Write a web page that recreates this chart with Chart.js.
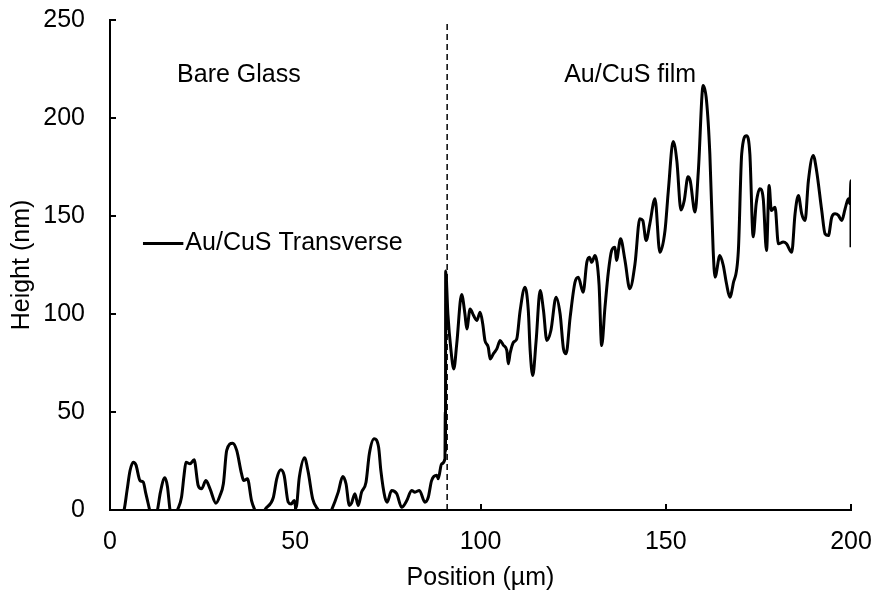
<!DOCTYPE html>
<html>
<head>
<meta charset="utf-8">
<script src="https://cdn.jsdelivr.net/npm/chart.js@4.4.1/dist/chart.umd.min.js"></script>
<style>
  html, body { margin: 0; padding: 0; background: #fff; }
</style>
</head>
<body>
<canvas id="chart" width="879" height="594"></canvas>
<script>
// transverse profile: position (µm) and height (nm)
const positions = [
  0, 2, 3.8, 4.6, 5.4, 6.3, 7.0, 8.1, 9.0, 9.6, 10.3, 10.7, 11.5, 12.8, 13.6, 14.8, 15.5, 16.2, 17, 18.2,
  19.3, 20.0, 20.5, 21.6, 22.7, 23.8, 24.7, 25.9, 27.0, 28.6, 29.7, 30.6, 31.5, 33.1, 34.2, 35.5, 36.1, 37.1, 38.2, 39.1,
  40.5, 41.8, 44.1, 45.0, 46.1, 47.0, 48.1, 48.9, 49.7, 50.2, 51.1, 52.5, 53.5, 54.7, 56.2, 58, 59.8, 61.6, 62.8, 63.7,
  64.6, 65.2, 66.1, 67.0, 67.9, 69.1, 70.0, 71.3, 72.5, 73.1, 74.2, 74.8, 76.0, 77.4, 78.7, 80.1, 81.4, 82.3, 83.5, 85.0,
  85.9, 86.8, 88.2, 88.6, 89.5, 90.4, 90.5, 90.55, 90.6, 91.2, 92.0, 92.8, 93.6, 94.9, 95.8, 96.3, 97.2, 98.1, 99.0, 99.9,
  100.6, 101.2, 102.1, 102.6, 103.5, 104.4, 105.3, 106.2, 107.1, 107.5, 108.0, 108.9, 109.8, 110.7, 112.0, 112.9, 113.4, 114.1, 115.0, 116.1,
  117.0, 117.9, 119.0, 120.4, 121.5, 122.4, 123.1, 124.2, 125.5, 126.4, 127.7, 128.7, 129.4, 130.0, 130.9, 132.0, 132.7, 133.6, 134.5, 135.4,
  136.3, 136.7, 137.8, 139.0, 140.3, 141.7, 143.0, 143.8, 144.7, 145.7, 147.1, 148.4, 149.8, 150.7, 152.0, 153.0, 154.1, 155.0, 156.0, 156.6,
  157.9, 158.8, 160.1, 161.0, 161.9, 162.8, 163.3, 164.6, 165.5, 166.4, 167.3, 168.2, 169.6, 170.5, 171.8, 172.7, 173.6, 174.4, 175.4, 176.3,
  177.2, 177.9, 178.5, 179.5, 180.4, 181.7, 182.6, 184.0, 184.9, 185.8, 186.7, 187.6, 188.5, 189.8, 190.7, 192.1, 193.0, 193.9, 194.8, 195.7,
  196.6, 197.5, 198.4, 199.3, 199.7, 200.0, 200.0
];
const heights = [
  -8, -6, 0, 10, 20, 24.4, 23, 15, 14.2, 9, 3.3, 0, -6, 0, 9, 16.4, 12, 0, -6, 0,
  6.5, 18, 24.4, 23.6, 25.6, 12.5, 10.8, 15, 10.8, 3.5, 7.4, 13.4, 30.4, 34.1, 30.4, 18.5, 15, 15.9, 4.8, 0,
  -6, 0, 6.5, 15.9, 20.5, 17.7, 4, 3, 4.8, 1, 16.7, 26.6, 19.3, 5.7, 0, -6, 0, 9.1, 17.1, 13.4,
  2.3, 3.5, 8.3, 2.3, 9.1, 14.2, 28.7, 36.3, 32, 20.2, 6.5, 4, 10, 8.3, 1.4, 4.8, 10, 9.1, 10, 4,
  6.5, 15, 17.7, 16, 23.6, 26.1, 50, 30, 122, 100, 82, 72, 85, 110, 100, 92.4, 102.6, 99.3, 96.7, 100.9,
  95, 86.5, 83, 77.1, 79.8, 82.2, 86.5, 84, 81.4, 74.6, 80, 85.6, 87.4, 101.8, 113.7, 101.8, 81.4, 68.6, 86, 112,
  101.8, 86.5, 91.6, 108.6, 99.9, 82.2, 79.7, 98.4, 116.2, 118.8, 111.1, 126.4, 129, 126.4, 129.8, 115, 83.9, 103.5, 121.3, 132.4,
  134.1, 127.3, 138.4, 127.3, 112.9, 125.6, 148.6, 147.7, 137.5, 146, 158.8, 131.5, 142.6, 163, 188, 178, 153, 158, 170, 168,
  152, 173, 216.6, 208.9, 181.7, 132.4, 118.8, 129.8, 125, 115.4, 108.6, 115.4, 132.4, 181.7, 191, 181.7, 139.4, 156.2, 163.9, 159,
  132.4, 165.6, 152.8, 154.5, 135.8, 136.7, 135.8, 131.5, 151.1, 160.5, 151.1, 147.7, 168, 180.9, 173.2, 152.8, 140.9, 140, 149.4, 151.1,
  150.3, 147.7, 153.6, 158.8, 156.2, 168, 134
];

// edge of the film, drawn as a dashed marker
const boundaryX = 91;
const heightRange = [0, 250];

// region labels [text, x, y] in data units
const regionLabels = [
  ['Bare Glass', 34.8, 222],
  ['Au/CuS film', 140.4, 222]
];

const FONT = '"Liberation Sans", Arial, sans-serif';
const fontSpec = { family: FONT, size: 25 };

const profile = positions.map((x, i) => ({ x: x, y: heights[i] }));

// ticks pointing into the plot + text labels + inline legend
const extras = {
  id: 'extras',
  afterDraw(chart) {
    const { ctx, chartArea, scales } = chart;
    const xs = scales.x, ys = scales.y;
    ctx.save();
    ctx.strokeStyle = '#000';
    ctx.lineWidth = 2;
    ctx.beginPath();
    xs.ticks.forEach(t => {
      const px = Math.round(xs.getPixelForValue(t.value));
      ctx.moveTo(px, chartArea.bottom);
      ctx.lineTo(px, chartArea.bottom - 6);
    });
    ys.ticks.forEach(t => {
      const py = Math.round(ys.getPixelForValue(t.value));
      ctx.moveTo(chartArea.left, py);
      ctx.lineTo(chartArea.left + 6, py);
    });
    ctx.stroke();

    ctx.fillStyle = '#000';
    ctx.font = '25px ' + FONT;
    ctx.textBaseline = 'middle';
    ctx.textAlign = 'center';
    regionLabels.forEach(([txt, x, y]) => {
      ctx.fillText(txt, xs.getPixelForValue(x), ys.getPixelForValue(y));
    });

    // legend entry
    const ly = ys.getPixelForValue(136);
    const lx0 = xs.getPixelForValue(8.9);
    const lx1 = xs.getPixelForValue(19.8);
    ctx.lineWidth = 3;
    ctx.beginPath();
    ctx.moveTo(lx0, ly);
    ctx.lineTo(lx1, ly);
    ctx.stroke();
    ctx.textAlign = 'left';
    ctx.fillText(chart.data.datasets[0].label, lx1 + 2, ly);
    ctx.restore();
  }
};

// hidden tick lines only push the labels away from the axis
const hiddenTicks = (len) => ({
  drawOnChartArea: false,
  drawTicks: true,
  tickLength: len,
  color: 'rgba(0,0,0,0)',
  tickColor: 'rgba(0,0,0,0)'
});

new Chart(document.getElementById('chart'), {
  type: 'line',
  data: {
    datasets: [
      {
        label: 'Au/CuS Transverse',
        data: profile,
        borderColor: '#000',
        borderWidth: 3,
        pointRadius: 0,
        cubicInterpolationMode: 'monotone',
        fill: false
      },
      {
        label: 'boundary',
        data: [{ x: boundaryX, y: heightRange[0] }, { x: boundaryX, y: heightRange[1] }],
        borderColor: '#000',
        borderWidth: 1.5,
        borderDash: [6, 4],
        pointRadius: 0,
        fill: false
      }
    ]
  },
  options: {
    responsive: false,
    animation: false,
    layout: { padding: { top: 20, right: 28, left: 0, bottom: 0 } },
    plugins: {
      legend: { display: false },
      tooltip: { enabled: false }
    },
    scales: {
      x: {
        type: 'linear',
        min: 0,
        max: 200,
        afterFit(scale) { scale.height = 84; },
        ticks: { stepSize: 50, color: '#000', font: fontSpec, padding: 0, maxRotation: 0 },
        grid: hiddenTicks(17),
        border: { display: true, color: '#000', width: 2 },
        title: { display: true, text: 'Position (µm)', color: '#000', font: fontSpec, padding: { top: 0, bottom: 1 } }
      },
      y: {
        min: heightRange[0],
        max: heightRange[1],
        afterFit(scale) { scale.width = 110; },
        ticks: { stepSize: 50, color: '#000', font: fontSpec, padding: 0 },
        grid: hiddenTicks(25),
        border: { display: true, color: '#000', width: 2 },
        title: { display: true, text: 'Height (nm)', color: '#000', font: fontSpec, padding: { top: 7, bottom: 0 } }
      }
    }
  },
  plugins: [extras]
});
</script>
</body>
</html>
